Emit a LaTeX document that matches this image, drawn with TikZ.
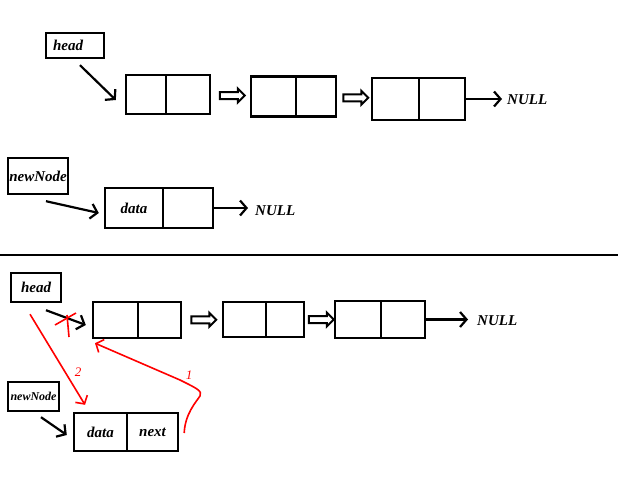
\documentclass[tikz,border=0pt]{standalone}
\usepackage{fontspec}
\setmainfont{Liberation Serif}
\usetikzlibrary{arrows.meta,calc,shapes.arrows,positioning}

\begin{document}
\begin{tikzpicture}[x=1pt,y=-1pt,
    cell/.style={draw,line width=2.4pt,inner sep=0pt,font=\fontsize{15}{18}\selectfont\bfseries\itshape},
    txt/.style={inner sep=0pt,font=\fontsize{15}{18}\selectfont\bfseries\itshape},
    arr/.style={line width=2.2pt,-{Straight Barb[length=6.5pt,width=15pt]}},
    hollow/.style={draw,line width=2pt,single arrow,inner sep=2.5pt,minimum height=25pt,single arrow head extend=3.5pt},
    redline/.style={red,line width=1.6pt},
    redarr/.style={red,line width=1.6pt,-{Straight Barb[length=6pt,width=14pt]}},
    num/.style={red,inner sep=0pt,font=\fontsize{13}{15}\selectfont\itshape}]
    \useasboundingbox (0,0) rectangle (640,493);

    \node[cell,minimum width=58pt,minimum height=25pt,text width=44pt,align=left] (head1) at (75,45.5) {head};
    \node[cell,minimum width=40pt,minimum height=39pt] (t1a) at (146,94.5) {};
    \node[cell,minimum width=44pt,minimum height=39pt] (t1b) at (188,94.5) {};
    \node[cell,minimum width=45pt,minimum height=40pt] (t2a) at (273.5,96.5) {};
    \node[cell,minimum width=40pt,minimum height=40pt] (t2b) at (316,96.5) {};
    \node[cell,minimum width=47pt,minimum height=42pt] (t3a) at (395.5,99) {};
    \node[cell,minimum width=46pt,minimum height=42pt] (t3b) at (442,99) {};
    \node[txt,anchor=west] (null1) at (507,100) {NULL};

    \node[hollow] (h1) at ($(t1b.east)!0.5!(t2a.west)$) {};
    \node[hollow] (h2) at ($(t2b.east)!0.5!(t3a.west)$) {};
    \draw[arr] ([shift={(5,6)}]head1.south) -- ([shift={(-9,5.5)}]t1a.west);
    \draw[arr] (t3b.east) -- ($(null1.west |- t3b.east)+(-5,0)$);

    \node[cell,minimum width=60pt,minimum height=36pt] (new1) at (38,176) {newNode};
    \node[cell,minimum width=58pt,minimum height=40pt] (nd) at (134,208) {data};
    \node[cell,minimum width=50pt,minimum height=40pt] (nn) at (188,208) {};
    \node[txt,anchor=west] (null2) at (255,211) {NULL};
    \draw[arr] ([shift={(8,6)}]new1.south) -- ([shift={(-5,5)}]nd.west);
    \draw[arr] (nn.east) -- ($(null2.west |- nn.east)+(-7,0)$);

    \draw[line width=2pt] (0,255) -- (618,255);

    \node[cell,minimum width=50pt,minimum height=29pt] (head2) at (36,287.5) {head};
    \node[cell,minimum width=45pt,minimum height=36pt] (b1a) at (115.5,320) {};
    \node[cell,minimum width=43pt,minimum height=36pt] (b1b) at (159.5,320) {};
    \node[cell,minimum width=43pt,minimum height=35pt] (b2a) at (244.5,319.5) {};
    \node[cell,minimum width=38pt,minimum height=35pt] (b2b) at (285,319.5) {};
    \node[cell,minimum width=46pt,minimum height=37pt] (b3a) at (358,319.5) {};
    \node[cell,minimum width=44pt,minimum height=37pt] (b3b) at (403,319.5) {};
    \node[txt,anchor=west] (null3) at (477,321) {NULL};

    \node[hollow] (h3) at ($(b1b.east)!0.5!(b2a.west)$) {};
    \node[hollow] (h4) at ($(b2b.east)!0.5!(b3a.west)$) {};
    \draw[arr] ([shift={(10,7)}]head2.south) -- ([shift={(-6,5)}]b1a.west);
    \draw[arr] (b3b.east) -- ($(null3.west |- b3b.east)+(-9,0)$);

    \node[cell,minimum width=51pt,minimum height=29pt,font=\fontsize{12}{14}\selectfont\bfseries\itshape] (new2) at (33.5,396.5) {newNode};
    \node[cell,minimum width=53pt,minimum height=38pt] (bd) at (100.5,432) {data};
    \node[cell,minimum width=51pt,minimum height=38pt] (bn) at (152.5,432) {next};
    \draw[arr] ([shift={(7.5,5)}]new2.south) -- ([shift={(-6,3)}]bd.west);

    \draw[redline] (55,325) -- (76,313);
    \draw[redline] (67,315) -- (69,337);
    \draw[redarr] ([shift={(-6,11)}]head2.south) -- ([shift={(-15.5,-7)}]bd.north);
    \node[num] (lab2) at (78,372) {2};
    \draw[redarr] ([shift={(5,1)}]bn.east) .. controls (185,414) and (196,402) .. (200,396)
        .. controls (203,391) and (196,388) .. (180,380) -- ([shift={(-20.5,4)}]b1a.south);
    \node[num] (lab1) at (189,375) {1};
\end{tikzpicture}
\end{document}
